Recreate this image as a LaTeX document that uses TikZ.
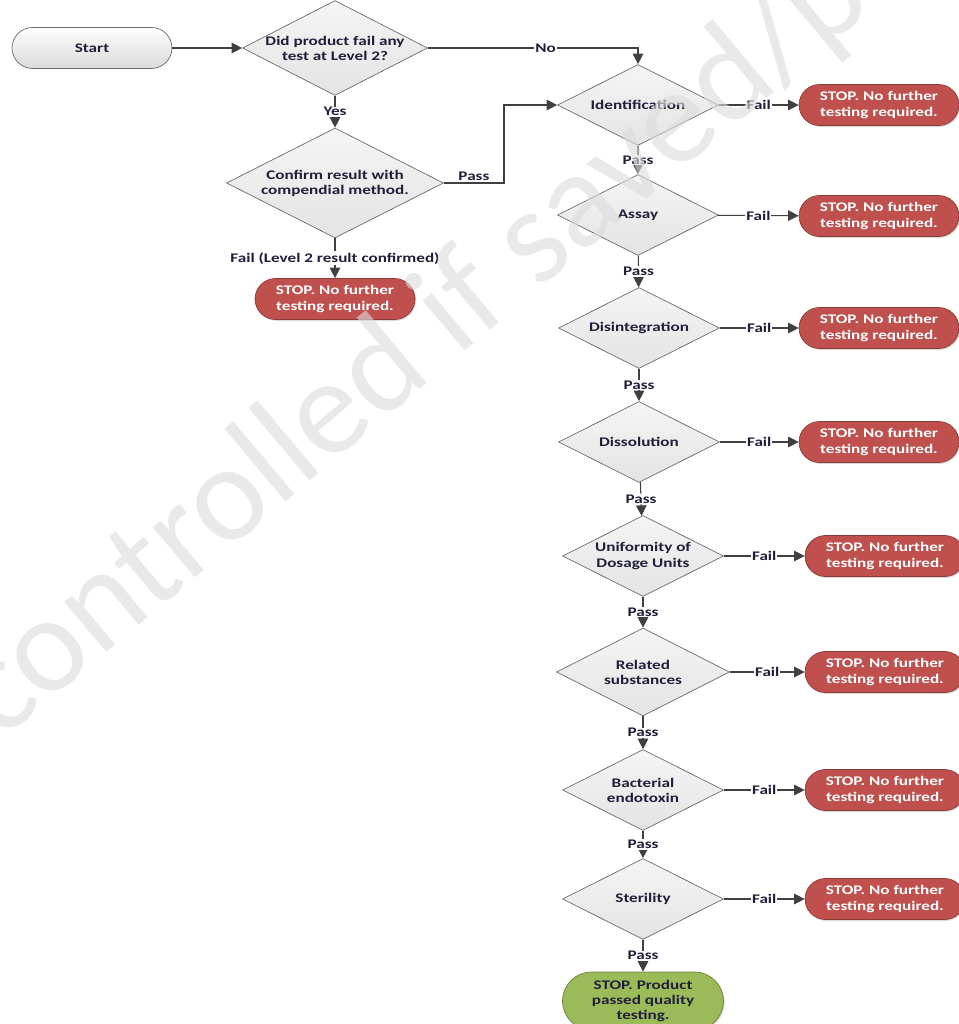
\documentclass[tikz,border=0pt]{standalone}
\usepackage{fontspec}
\setmainfont{Carlito}[FakeStretch=1.3]
\newfontfamily\wmfont{Carlito}
\usetikzlibrary{shapes.geometric,arrows.meta,shadows}
\definecolor{ink}{HTML}{1F1F3A}
\definecolor{linegray}{HTML}{404040}
\definecolor{edgegray}{HTML}{6A6A6A}
\definecolor{boxgray}{HTML}{F2F2F2}
\definecolor{stopred}{HTML}{C0504D}
\definecolor{redline}{HTML}{8C3A38}
\definecolor{passgreen}{HTML}{9BBB59}
\definecolor{greenline}{HTML}{6B7F3C}
\definecolor{wmgray}{HTML}{DCDCDC}

\tikzset{
	test/.style={diamond,aspect=2,draw=edgegray,top color=white!96!black,bottom color=boxgray!94!black,text=ink,inner sep=0pt,minimum width=3.22cm,minimum height=1.62cm,align=center},
	stopbox/.style={rectangle,rounded corners=0.41cm,draw=redline,fill=stopred,text=white,minimum width=3.2cm,minimum height=0.82cm,align=center,drop shadow={shadow xshift=0.6pt,shadow yshift=-0.8pt,opacity=0.3}},
	startbox/.style={rectangle,rounded corners=0.41cm,draw=edgegray,top color=white,bottom color=boxgray!90!black,text=ink,minimum width=3.2cm,minimum height=0.82cm},
	passbox/.style={rectangle,rounded corners=0.58cm,draw=greenline,fill=passgreen,text=ink,minimum width=3.22cm,minimum height=1.16cm,align=center,drop shadow={shadow xshift=0.6pt,shadow yshift=-0.8pt,opacity=0.3}},
	flow/.style={draw=linegray,line width=0.6pt,-{Triangle[length=2.1mm,width=2.1mm]}},
	edgetext/.style={fill=white,inner sep=0.5pt,text=ink}
}

\begin{document}
\begin{tikzpicture}[x=0.02cm,y=-0.02cm,font=\fontsize{7.5}{8.6}\selectfont\bfseries]
		\useasboundingbox (0,0) rectangle (958,1024);

		% Level 2 check
		\node[startbox] (start) at (92,48) {Start};
		\node[test,minimum width=3.7cm,minimum height=1.9cm,inner xsep=-5pt] (level) at (335,48) {Did product fail any\\test at Level 2?};
		\node[test,minimum width=4.34cm,minimum height=2.2cm] (confirm) at (335,183) {Confirm result with\\compendial method.};
		\node[stopbox] (stop0) at (335,299) {STOP. No further\\testing required.};
		\coordinate (bend) at (504,183);

		% Tests
		\node[test] (ident) at (638,105) {Identification};
		\node[test] (assay) at (638,215) {Assay};
		\node[test] (disint) at (639,328) {Disintegration};
		\node[test] (dissol) at (639,442) {Dissolution};
		\node[test] (unif) at (643,556) {Uniformity of\\Dosage Units};
		\node[test,minimum width=3.46cm,minimum height=1.76cm] (related) at (643,672) {Related\\substances};
		\node[test] (endo) at (643,790) {Bacterial\\endotoxin};
		\node[test] (steril) at (643,899) {Sterility};

		% Stops
		\node[stopbox] (stop1) at (879,105) {STOP. No further\\testing required.};
		\node[stopbox] (stop2) at (879,216) {STOP. No further\\testing required.};
		\node[stopbox] (stop3) at (879,328) {STOP. No further\\testing required.};
		\node[stopbox] (stop4) at (879,442) {STOP. No further\\testing required.};
		\node[stopbox] (stop5) at (885,556) {STOP. No further\\testing required.};
		\node[stopbox] (stop6) at (885,672) {STOP. No further\\testing required.};
		\node[stopbox] (stop7) at (885,790) {STOP. No further\\testing required.};
		\node[stopbox] (stop8) at (885,899) {STOP. No further\\testing required.};
		\node[passbox] (done) at (643,1001) {STOP. Product\\passed quality\\testing.};

		% Arrows
		\draw[flow] (start) -- (level);
		\draw[flow] (level.east) -| node[pos=0.28,edgetext] {No} (ident.north);
		\draw[flow] (level.south) -- node[edgetext] {Yes} (confirm.north);
		\draw[flow] (confirm.east) -- node[above,text=ink,inner sep=1pt] {Pass} (bend) |- (ident.west);
		\draw[flow] (confirm.south) -- node[edgetext] {Fail (Level 2 result confirmed)} (stop0.north);

		\draw[flow] (ident) -- node[edgetext] {Pass} (assay);
		\draw[flow] (assay) -- node[edgetext] {Pass} (disint);
		\draw[flow] (disint) -- node[edgetext] {Pass} (dissol);
		\draw[flow] (dissol) -- node[edgetext] {Pass} (unif);
		\draw[flow] (unif) -- node[edgetext] {Pass} (related);
		\draw[flow] (related) -- node[edgetext] {Pass} (endo);
		\draw[flow] (endo) -- node[edgetext] {Pass} (steril);
		\draw[flow] (steril) -- node[edgetext] {Pass} (done);

		\draw[flow] (ident) -- node[edgetext] {Fail} (stop1);
		\draw[flow] (assay) -- node[edgetext] {Fail} (stop2);
		\draw[flow] (disint) -- node[edgetext] {Fail} (stop3);
		\draw[flow] (dissol) -- node[edgetext] {Fail} (stop4);
		\draw[flow] (unif) -- node[edgetext] {Fail} (stop5);
		\draw[flow] (related) -- node[edgetext] {Fail} (stop6);
		\draw[flow] (endo) -- node[edgetext] {Fail} (stop7);
		\draw[flow] (steril) -- node[edgetext] {Fail} (stop8);

		% Watermark
		\node[anchor=base west,rotate=40,inner sep=0pt,text=wmgray,opacity=0.62,font=\wmfont\fontsize{78}{90}\selectfont] (mark) at (0,742) {controlled if saved/p};
\end{tikzpicture}
\end{document}
